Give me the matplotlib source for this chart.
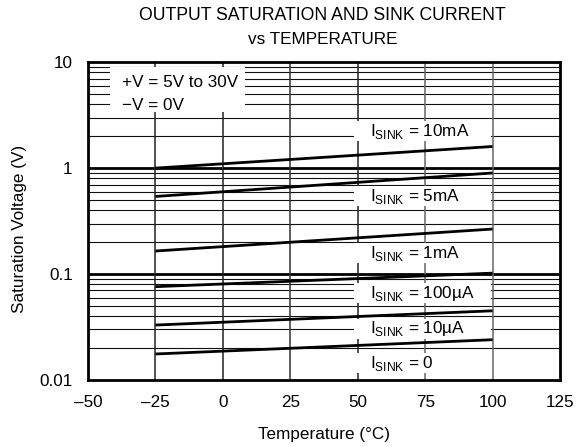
import matplotlib
matplotlib.use("Agg")
import matplotlib.pyplot as plt
from matplotlib.patches import Rectangle

plt.rcParams['font.family'] = ['Liberation Sans', 'DejaVu Sans']

temps = [-25, 100]
series_labels = ["10mA", "5mA", "1mA", "100µA", "10µA", "0"]
series_values = [
    [1.0, 1.6],
    [0.54, 0.90],
    [0.165, 0.266],
    [0.076, 0.102],
    [0.033, 0.045],
    [0.0176, 0.024],
]
label_y = [2.23, 0.545, 0.158, 0.0662, 0.0303, 0.01446]
x_ticks = [-50, -25, 0, 25, 50, 75, 100, 125]
x_tick_labels = ["\u201350", "\u201325", "0", "25", "50", "75", "100", "125"]
y_ticks = [0.01, 0.1, 1, 10]
y_tick_labels = ["0.01", "0.1", "1", "10"]

FS = 12.3

fig = plt.figure(figsize=(5.77, 4.47), dpi=100)
ax = fig.add_axes([0.1525, 0.1499, 0.818, 0.711])
ax.set_yscale('log')
ax.set_xlim(-50, 125)
ax.set_ylim(0.01, 10)

# grid
for dec in [0.01, 0.1, 1]:
    for m in range(2, 10):
        ax.axhline(dec * m, color='#111111', lw=0.8, zorder=1)
for v in [0.1, 1]:
    ax.axhline(v, color='black', lw=2.0, zorder=1)
vcols = ['#222222', '#222222', '#333333', '#222222', '#666666', '#666666']
for x, c in zip(x_ticks[1:-1], vcols):
    ax.axvline(x, color=c, lw=1.1, zorder=1)

for vals in series_values:
    ax.plot(temps, vals, color='black', lw=2.0, zorder=3, solid_capstyle='butt')

# label boxes
f = 1.24
for lab, y in zip(series_labels, label_y):
    lo = max(y / f, 0.01)
    ax.add_patch(Rectangle((48.5, lo), 51.0, y * f - lo, facecolor='white',
                           edgecolor='none', zorder=2))
    ax.text(54.4, y, r"I$_{\mathregular{SINK}}$ = " + lab, fontsize=FS, va='center', ha='left',
            zorder=4)

ax.add_patch(Rectangle((-41.9, 3.37), 50.0, 8.97 - 3.37, facecolor='white',
                       edgecolor='none', zorder=2))
ax.text(-37.4, 6.47, "+V = 5V to 30V", fontsize=FS, va='center', ha='left', zorder=4)
ax.text(-37.4, 3.93, "\u2212V = 0V", fontsize=FS, va='center', ha='left', zorder=4)

ax.set_xticks(x_ticks)
ax.set_xticklabels(x_tick_labels)
ax.set_yticks(y_ticks)
ax.set_yticklabels(y_tick_labels)
ax.yaxis.set_minor_locator(matplotlib.ticker.NullLocator())
ax.tick_params(length=0, labelsize=FS, pad=11)
for s in ax.spines.values():
    s.set_linewidth(2.0)
    s.set_zorder(5)

ax.set_xlabel("Temperature (\u00b0C)", fontsize=FS)
ax.xaxis.set_label_coords(0.5, -0.148)
ax.set_ylabel("Saturation Voltage (V)", fontsize=FS)
ax.yaxis.set_label_coords(-0.13, 0.475)
fig.text(322.5 / 577, 1 - 15 / 447, "OUTPUT SATURATION AND SINK CURRENT", ha='center', va='center', fontsize=12.7)
fig.text(322.5 / 577, 1 - 39 / 447, "vs TEMPERATURE", ha='center', va='center', fontsize=FS)

fig.savefig("out.png", dpi=100)
